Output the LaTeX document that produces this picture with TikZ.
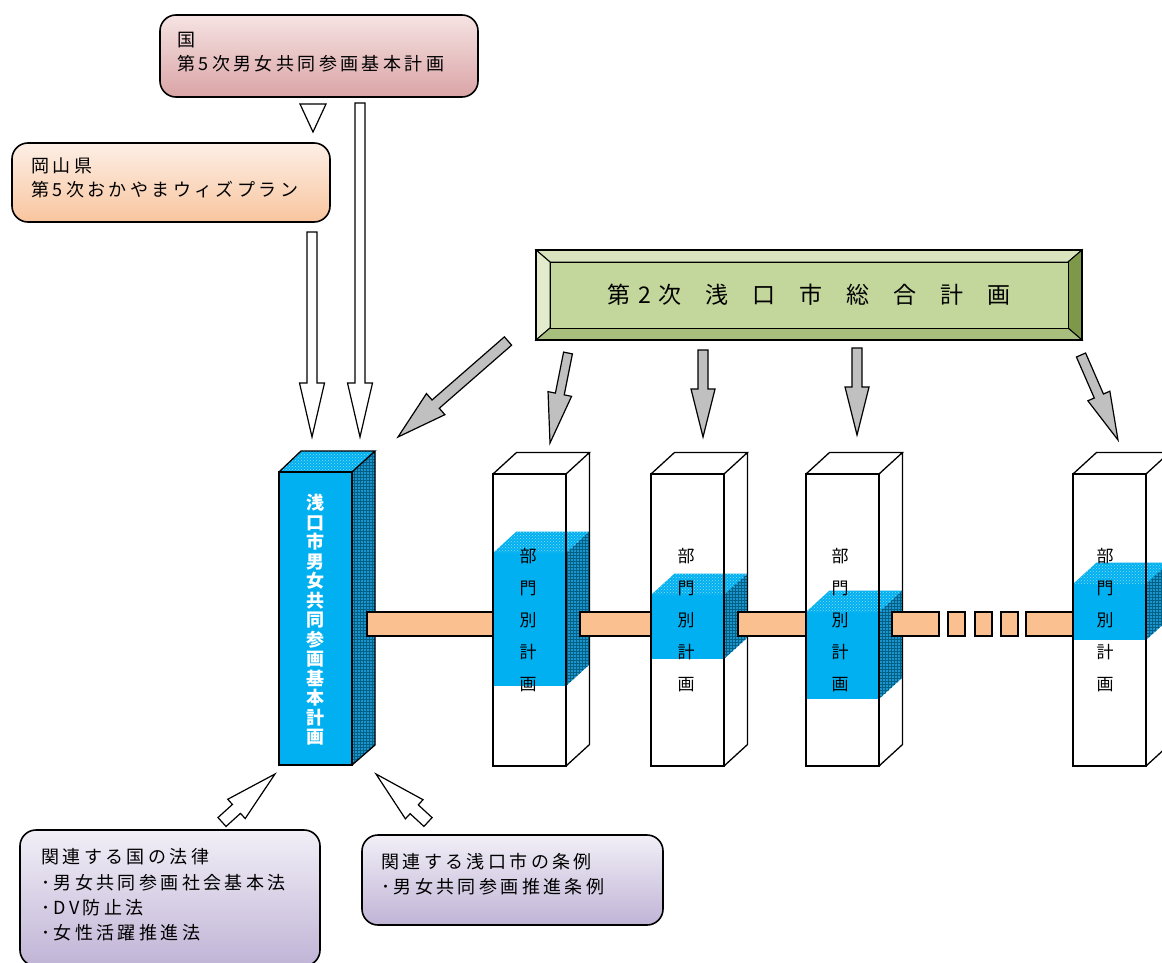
\documentclass[tikz,border=0pt]{standalone}
\usepackage{fontspec}
\setmainfont{Noto Sans CJK JP}
\newfontfamily\jp[LetterSpace=19]{Noto Sans CJK JP}
\usetikzlibrary{calc,patterns}
\definecolor{cyanblue}{HTML}{00B0F0}
\definecolor{sidedark}{HTML}{1A95CF}
\definecolor{barfill}{HTML}{FAC090}
\definecolor{arrowgray}{HTML}{C0C0C0}
\definecolor{greenin}{HTML}{C3D69B}
\tikzset{
  rbox/.style={draw=black, line width=1.6pt, rounded corners=16pt, inner sep=0pt},
  boxtext/.style={anchor=west, inner sep=0pt, align=left, font={\jp\fontsize{18}{24.5}\selectfont}},
  openarrow/.style={draw=black, fill=white, line width=1.2pt, line join=miter},
  grayarrow/.style={draw=black, fill=arrowgray, line width=1.2pt, line join=miter},
  pfill/.style={fill=white},
  pline/.style={draw=black, line width=1.3pt, line join=miter},
  pillarface/.style={draw=black, line width=1.3pt, minimum width=73pt, minimum height=292pt, inner sep=0pt},
  bluetop/.style={fill=cyanblue, postaction={pattern=crosshatch dots, pattern color=white!55!cyanblue}},
  blueside/.style={fill=sidedark, postaction={pattern=grid, pattern color=black!45!cyanblue}},
  vtext/.style={inner sep=0pt, align=center, font={\fontsize{17}{32}\selectfont}},
  bar/.style={draw=black, fill=barfill, line width=1.4pt},
  bevel/.style={draw=black, line width=1pt},
}
\newcommand\blockarrow[6]{%
  \coordinate (ba-t) at (#2);
  \coordinate (ba-p) at (#3);
  \coordinate (ba-h) at ($(ba-p)!#6!(ba-t)$);
  \draw[#1] ($(ba-t)!#4!90:(ba-p)$) -- ($(ba-h)!#4!90:(ba-p)$) -- ($(ba-h)!#5!90:(ba-p)$) -- (ba-p)
    -- ($(ba-h)!#5!-90:(ba-p)$) -- ($(ba-h)!#4!-90:(ba-p)$) -- ($(ba-t)!#4!-90:(ba-p)$) -- cycle;
}
\newcommand\pillar[5]{%
  \path[pfill] (#2,474) rectangle ++(73,292);
  \path[pfill] (#2,474) -- ++(23.5,-21.5) -- ++(73,0) -- ++(-23.5,21.5) -- cycle;
  \path[pfill] (#2+73,474) -- ++(23.5,-21.5) -- ++(0,292) -- ++(-23.5,21.5) -- cycle;
  \fill[cyanblue] (#2,#3) rectangle (#2+73,#4);
  \path[bluetop] (#2,#3) -- ++(23.5,-21.5) -- ++(73,0) -- ++(-23.5,21.5) -- cycle;
  \path[blueside] (#2+73,#3) -- ++(23.5,-21.5) -- (#2+96.5,#4-21.5) -- (#2+73,#4) -- cycle;
  \node[pillarface] (#1) at (#2+36.5,620) {};
  \draw[pline] (#2,474) -- ++(23.5,-21.5) -- ++(73,0) -- ++(-23.5,21.5)
     (#2+96.5,452.5) -- ++(0,292) -- ++(-23.5,21.5);
  \node[vtext] (#1t) at (#2+#5,620.5) {部\\門\\別\\計\\画};
}
\begin{document}
\begin{tikzpicture}[x=1pt,y=-1pt]
\path[use as bounding box] (0,0) rectangle (1162,963);
\clip (0,0) rectangle (1162,963);

% ---- top boxes
\node[rbox, top color={rgb,255:red,246;green,227;blue,227}, bottom color={rgb,255:red,218;green,164;blue,166},
      minimum width=318pt, minimum height=82pt] (kuni) at (319,56) {};
\node[boxtext] (kunit) at (177,52) {国\\第5次男女共同参画基本計画};

\node[rbox, top color={rgb,255:red,253;green,239;blue,230}, bottom color={rgb,255:red,248;green,197;blue,158},
      minimum width=318pt, minimum height=79pt] (ken) at (171,182.5) {};
\node[boxtext] (kent) at (31,178) {岡山県\\第5次おかやまウィズプラン};

% small triangle
\draw[openarrow] (300,104) -- (326,104) -- (313,132) -- cycle;

% open arrows down to plan
\blockarrow{openarrow}{312,232}{312,437}{5pt}{12.5pt}{54pt}
\blockarrow{openarrow}{360,103}{360,437}{5pt}{12.5pt}{54pt}

% ---- green box
\path[bevel, fill={rgb,255:red,217;green,228;blue,191}] (536,250) -- (1082,250) -- (1068,262) -- (550,262) -- cycle;
\path[bevel, fill={rgb,255:red,226;green,235;blue,204}] (536,250) -- (550,262) -- (550,328) -- (536,340) -- cycle;
\path[bevel, fill={rgb,255:red,125;green,152;blue,72}] (1082,250) -- (1068,262) -- (1068,328) -- (1082,340) -- cycle;
\path[bevel, fill={rgb,255:red,168;green,190;blue,124}] (536,340) -- (550,328) -- (1068,328) -- (1082,340) -- cycle;
\draw[line width=1.6pt] (536,250) rectangle (1082,340);
\node[draw=black, line width=1pt, fill=greenin, minimum width=518pt, minimum height=66pt, inner sep=0pt,
      font={\fontsize{23}{23}\selectfont}] (sogo) at (809,295)
  {第\hspace{8pt}2\hspace{8pt}次\hspace{24pt}浅\hspace{24pt}口\hspace{24pt}市\hspace{24pt}総\hspace{24pt}合\hspace{24pt}計\hspace{24pt}画};

% gray arrows
\blockarrow{grayarrow}{508,341}{398,437}{5.5pt}{14pt}{50pt}
\blockarrow{grayarrow}{568,353}{550,443}{4.5pt}{12pt}{50pt}
\blockarrow{grayarrow}{703,350}{703,437}{5pt}{12pt}{48pt}
\blockarrow{grayarrow}{857,348}{857,435}{5pt}{12pt}{48pt}
\blockarrow{grayarrow}{1081,355}{1118,440}{5pt}{12pt}{48pt}

% ---- plan column
\path[bluetop] (279,472) -- (301,451) -- (375,451) -- (352,472) -- cycle;
\path[blueside] (352,472) -- (375,451) -- (375,745) -- (352,765) -- cycle;
\draw[pline] (279,472) -- (301,451) -- (375,451) -- (352,472) (375,451) -- (375,745) -- (352,765);
\node[pillarface, fill=cyanblue, minimum height=293pt] (plan) at (315.5,618.5) {};
\node[inner sep=0pt, align=center, text=white, font={\bfseries\fontsize{18}{19.5}\selectfont}] (plant) at (315,620)
  {浅\\口\\市\\男\\女\\共\\同\\参\\画\\基\\本\\計\\画};

% ---- pillars
\pillar{p1}{493}{553}{686}{35}
\pillar{p2}{651}{595}{659}{35}
\pillar{p3}{806}{612}{699}{34}
\pillar{p4}{1073}{584}{640}{32}

% ---- bars
\draw[bar] (367,612) rectangle (493,636);
\draw[bar] (580,612) rectangle (651,636);
\draw[bar] (738,612) rectangle (806,636);
\draw[bar] (892,612) rectangle (939,636);
\draw[bar] (948,612) rectangle (965,636);
\draw[bar] (975,612) rectangle (992,636);
\draw[bar] (1001,612) rectangle (1018,636);
\draw[bar] (1026,612) rectangle (1073,636);

% ---- bottom arrows
\blockarrow{openarrow}{222,822}{275,774}{6pt}{13pt}{52pt}
\blockarrow{openarrow}{428,822}{376,774}{6pt}{13pt}{52pt}

% ---- bottom boxes
\node[rbox, top color={rgb,255:red,242;green,239;blue,247}, bottom color={rgb,255:red,192;green,180;blue,214},
      minimum width=300pt, minimum height=136pt] (law) at (170,898) {};
\node[boxtext, font={\jp\fontsize{18}{25.3}\selectfont}] (lawt) at (41,895)
  {関連する国の法律\\･男女共同参画社会基本法\\･DV防止法\\･女性活躍推進法};

\node[rbox, top color={rgb,255:red,242;green,239;blue,247}, bottom color={rgb,255:red,192;green,180;blue,214},
      minimum width=301pt, minimum height=90pt] (jorei) at (512.5,880) {};
\node[boxtext, font={\jp\fontsize{18}{25}\selectfont}] (joreit) at (381,874.5)
  {関連する浅口市の条例\\･男女共同参画推進条例};
\end{tikzpicture}
\end{document}
